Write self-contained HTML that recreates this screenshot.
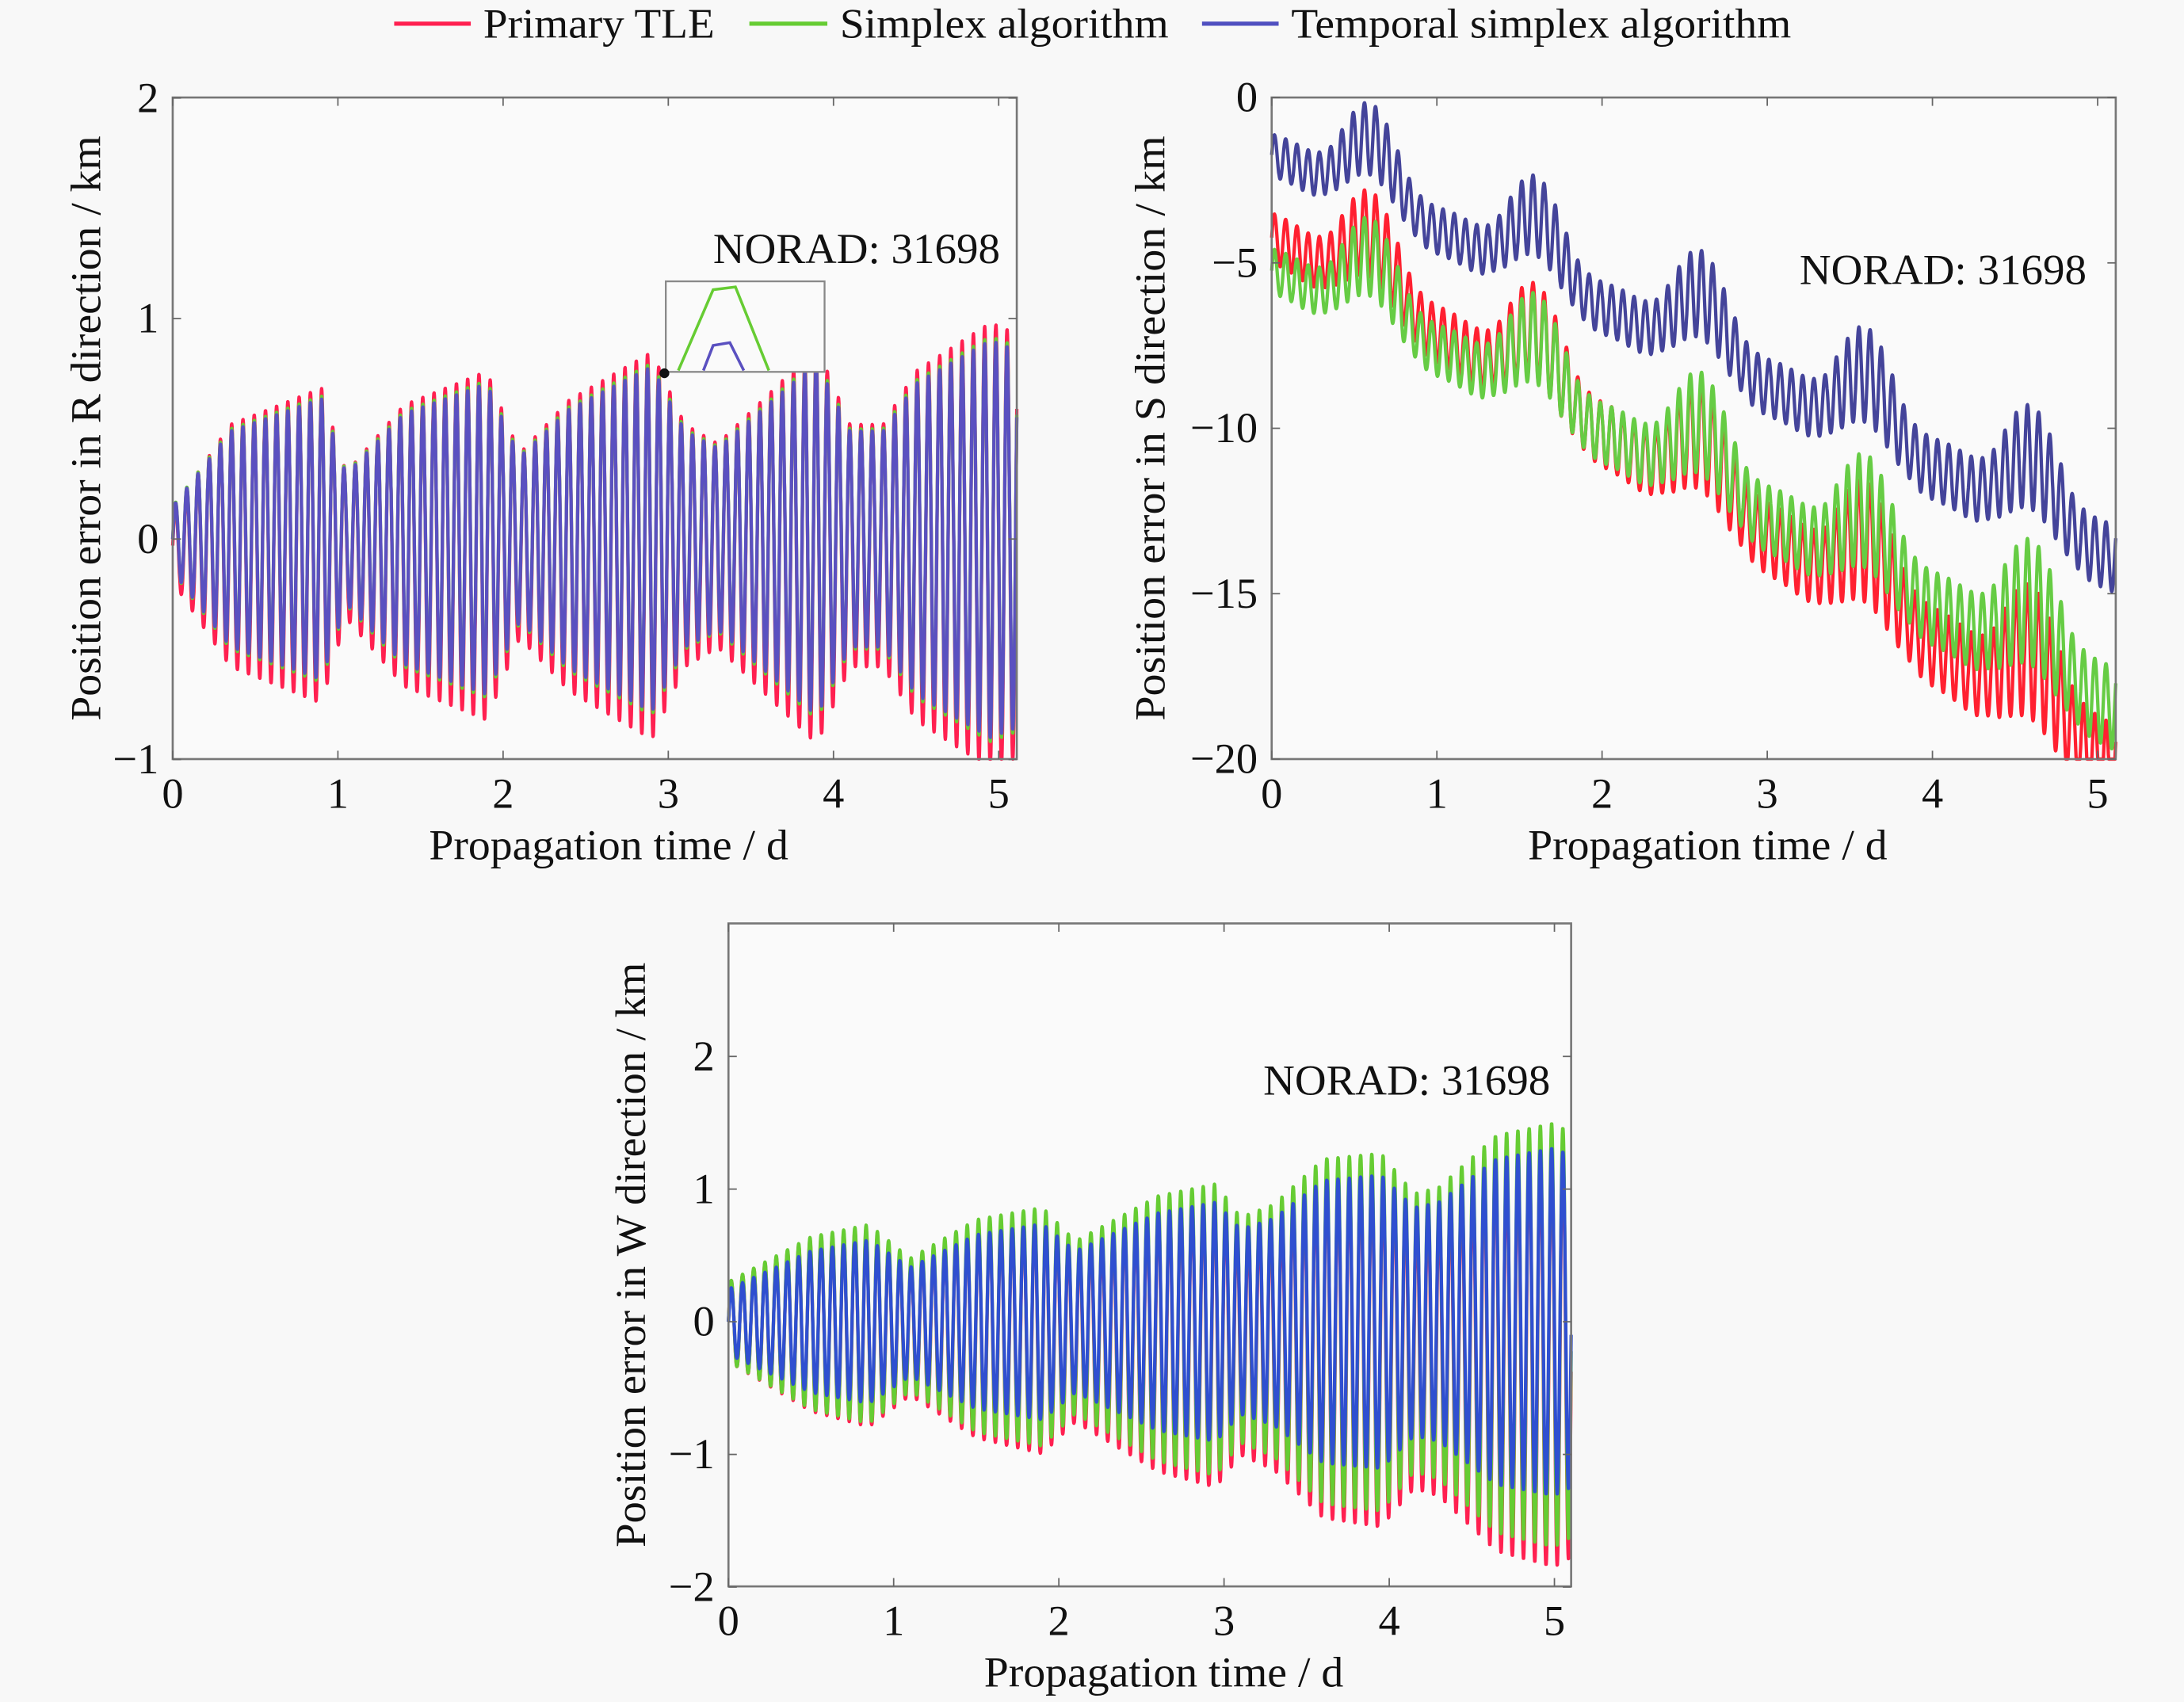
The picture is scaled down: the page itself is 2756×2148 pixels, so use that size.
<!DOCTYPE html>
<html><head><meta charset="utf-8"><style>
html,body{margin:0;padding:0;background:#f8f8f8;}
svg{display:block;}
text{font-family:"Liberation Serif",serif;fill:#111;}
</style></head><body>
<svg id="s" width="2756" height="2148" viewBox="0 0 1568 1222" preserveAspectRatio="none" xmlns="http://www.w3.org/2000/svg">
<rect x="0" y="0" width="1568" height="1222" fill="#f8f8f8"/>
<line x1="283" y1="17" x2="338" y2="17" stroke="#ff2050" stroke-width="3"/>
<text x="347" y="27" font-size="30" textLength="166" lengthAdjust="spacingAndGlyphs">Primary TLE</text>
<line x1="538" y1="17" x2="594" y2="17" stroke="#66cc33" stroke-width="3"/>
<text x="603" y="27" font-size="30" textLength="236" lengthAdjust="spacingAndGlyphs">Simplex algorithm</text>
<line x1="863" y1="17" x2="918" y2="17" stroke="#5050c0" stroke-width="3"/>
<text x="927" y="27" font-size="30" textLength="359" lengthAdjust="spacingAndGlyphs">Temporal simplex algorithm</text>
<g id="g"></g>
</svg>
<script>
var NS="http://www.w3.org/2000/svg",G=document.getElementById('g');
function el(n,a,t){var e=document.createElementNS(NS,n);for(var k in a)e.setAttribute(k,a[k]);if(t!==undefined)e.textContent=t;G.appendChild(e);return e;}
var F=14.7,TW=Math.PI*2;
function interp(tab,t){for(var i=0;i<tab.length-1;i++){if(t<=tab[i+1][0]){var a=tab[i],b=tab[i+1],u=(t-a[0])/(b[0]-a[0]);return a[1]+(b[1]-a[1])*u;}}return tab[tab.length-1][1];}
function axes(o){el('rect',{x:o.x0,y:o.y0,width:o.x1-o.x0,height:o.y1-o.y0,fill:'#fafafa'});}
function frame(o){
 el('rect',{x:o.x0,y:o.y0,width:o.x1-o.x0,height:o.y1-o.y0,fill:'none',stroke:'#777','stroke-width':1.5});
 for(var d=0;d<=5;d++){var x=o.x0+d*o.px;el('line',{x1:x,y1:o.y1,x2:x,y2:o.y1-6,stroke:'#666'});el('line',{x1:x,y1:o.y0,x2:x,y2:o.y0+6,stroke:'#666'});
  el('text',{x:x,y:o.y1+35,'font-size':31,'text-anchor':'middle'},d);}
 o.yt.forEach(function(v){var y=o.Y(v);el('line',{x1:o.x0,y1:y,x2:o.x0+6,y2:y,stroke:'#666'});el('line',{x1:o.x1,y1:y,x2:o.x1-6,y2:y,stroke:'#666'});
  el('text',{x:o.x0-10,y:y+10,'font-size':31,'text-anchor':'end'},v<0?'\u2212'+(-v):v);});
 el('text',{x:(o.x0+o.x1)/2+10,y:o.y1+72,'font-size':31,'text-anchor':'middle',textLength:258,lengthAdjust:'spacingAndGlyphs'},'Propagation time / d');
 var cy=(o.y0+o.y1)/2;el('text',{x:0,y:0,'font-size':31,'text-anchor':'middle',textLength:420,lengthAdjust:'spacingAndGlyphs',transform:'translate('+(o.x0-o.lo+10)+','+cy+') rotate(-90)'},o.yl);
 el('text',{x:o.nx-206,y:o.ny,'font-size':31,textLength:206,lengthAdjust:'spacingAndGlyphs'},'NORAD: 31698');
}
function series(o,f,col,w){
 var p=[],tmax=(o.x1-o.x0)/o.px;
 for(var i=0;i<=3000;i++){var t=tmax*i/3000;var y=o.Y(f(t));y=Math.max(o.y0,Math.min(o.y1,y));p.push((o.x0+t*o.px).toFixed(1)+','+y.toFixed(1));}
 el('polyline',{points:p.join(' '),fill:'none',stroke:col,'stroke-width':w||2.4,'stroke-linejoin':'round'});
}
// R plot
var A={x0:124,x1:730,y0:70,y1:545,px:118.6,yt:[-1,0,1,2],yl:'Position error in R direction / km',nx:718,ny:189,lo:62};
A.Y=function(v){return 387-v*158.3;};
axes(A);
var RT=[[0,0.15],[0.35,0.5],[0.9,0.65],[1.05,0.3],[1.4,0.58],[1.9,0.72],[2.1,0.38],[2.4,0.6],[2.9,0.8],[3.1,0.5],[3.3,0.42],[3.9,0.82],[4.1,0.5],[4.3,0.5],[4.5,0.72],[4.95,0.92],[5.2,0.85]];
function envR(t){return interp(RT,t);}
series(A,function(t){return 1.1*envR(t)*Math.sin(TW*F*t)-0.03;},'#ff2050');
series(A,function(t){return 1.0*envR(t)*Math.sin(TW*F*t);},'#66cc33');
series(A,function(t){return 0.98*envR(t)*Math.sin(TW*F*t);},'#5a50c0');
el('rect',{x:478,y:202,width:114,height:65,fill:'#fafafa',stroke:'#888','stroke-width':1.3});
el('polyline',{points:'487,266 512,208 528,206 552,266',fill:'none',stroke:'#66cc33','stroke-width':2});
el('polyline',{points:'505,266 512,248 524,246 534,266',fill:'none',stroke:'#5a50c0','stroke-width':2});
el('circle',{cx:477,cy:268,r:3.5,fill:'#111'});
frame(A);
// S plot
var B={x0:913,x1:1519,y0:70,y1:545,px:118.6,yt:[-20,-15,-10,-5,0],yl:'Position error in S direction / km',nx:1498,ny:204,lo:87};
B.Y=function(v){return 70-v*23.75;};
axes(B);
function bump(t){return 0.9*Math.cos(TW*(t-0.6))+0.3*Math.cos(TW*2*(t-0.6));}
function osc(t,a){return a*(0.75+0.45*Math.max(0,Math.cos(TW*(t-0.6))))*Math.sin(TW*F*t);}
series(B,function(t){return -3.6-2.85*t-0.06*t*t+bump(t)+osc(t,1.0+0.15*t);},'#ff2030');
series(B,function(t){return -4.6-2.35*t-0.05*t*t+bump(t)+osc(t,0.9+0.15*t);},'#66cc44');
series(B,function(t){return -1.1-2.25*t-0.03*t*t+bump(t)+osc(t,0.85+0.1*t);},'#44449a');
frame(B);
// W plot
var C={x0:523,x1:1128,y0:663,y1:1139,px:118.6,yt:[-2,-1,0,1,2],yl:'Position error in W direction / km',nx:1113,ny:786,lo:70};
C.Y=function(v){return 949-v*95.25;};
axes(C);
var WT=[[0,0.3],[0.5,0.65],[0.85,0.75],[1.1,0.5],[1.5,0.8],[1.9,0.9],[2.1,0.65],[2.6,1.0],[2.95,1.1],[3.1,0.85],[3.3,0.95],[3.6,1.3],[3.95,1.35],[4.15,1.05],[4.3,1.1],[4.65,1.5],[5.0,1.6],[5.2,1.45]];
function envW(t){return interp(WT,t);}
series(C,function(t){return 1.0*envW(t)*Math.sin(TW*F*t)-0.05*t;},'#ff2050');
series(C,function(t){return 1.0*envW(t)*Math.sin(TW*F*t)-0.02*t;},'#66cc33');
series(C,function(t){return 0.82*envW(t)*Math.sin(TW*F*t);},'#2f4fd0');
frame(C);
</script>
</body></html>
